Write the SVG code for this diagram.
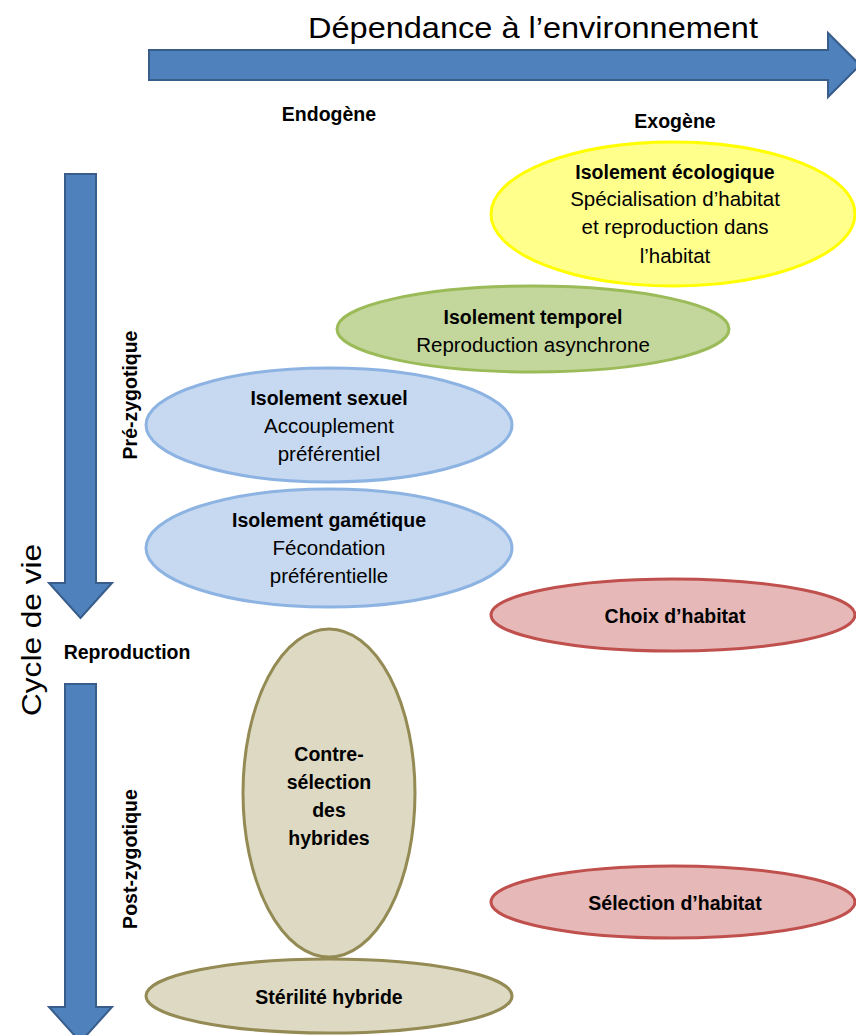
<svg xmlns="http://www.w3.org/2000/svg" width="856" height="1035" viewBox="0 0 856 1035">
<style>
.arrow{fill:#4F81BD;stroke:#385D8A;stroke-width:2}
.t{font-family:"Liberation Sans",Arial,sans-serif;fill:#000;text-anchor:middle}
.b{font-weight:bold;font-size:19.5px}
.n{font-size:20.5px}
.yel{fill:#FFFF8C;stroke:#FFFF00;stroke-width:3}
.grn{fill:#C3D69B;stroke:#9BBB59;stroke-width:3}
.blu{fill:#C6D9F1;stroke:#8DB3E2;stroke-width:3}
.red{fill:#E6B9B8;stroke:#C0504D;stroke-width:3}
.tan{fill:#DDD9C3;stroke:#948A54;stroke-width:3}
</style>
<rect width="856" height="1035" fill="#fff"/>
<g id="axes">
<path class="arrow" d="M149,50 H828 V33 L860,65 L828,97 V80 H149 Z"/>
<path class="arrow" d="M65,174 H96 V583 H112 L80.5,618 L49,583 H65 Z"/>
<path class="arrow" d="M65,684 H96 V1007 H112 L80.5,1042 L49,1007 H65 Z"/>
<text class="t" x="533" y="38" font-size="30" textLength="450" lengthAdjust="spacingAndGlyphs">Dépendance à l’environnement</text>
<text class="t b" x="329" y="121">Endogène</text>
<text class="t b" x="675" y="128">Exogène</text>
<text class="t" x="0" y="0" font-size="28" transform="translate(41,630) rotate(-90)" textLength="172" lengthAdjust="spacingAndGlyphs">Cycle de vie</text>
<text class="t b" transform="translate(137,395) rotate(-90)">Pré-zygotique</text>
<text class="t b" transform="translate(137,859) rotate(-90)">Post-zygotique</text>
<text class="t b" x="127" y="659">Reproduction</text>
</g>
<g id="ecologique">
<ellipse class="yel" cx="673" cy="214" rx="182" ry="72"/>
<text class="t b" x="675" y="179">Isolement écologique</text>
<text class="t n" x="675" y="206">Spécialisation d’habitat</text>
<text class="t n" x="675" y="234">et reproduction dans</text>
<text class="t n" x="675" y="263">l’habitat</text>
</g>
<g id="temporel">
<ellipse class="grn" cx="533" cy="329" rx="196" ry="43"/>
<text class="t b" x="533" y="324">Isolement temporel</text>
<text class="t n" x="533" y="352">Reproduction asynchrone</text>
</g>
<g id="sexuel">
<ellipse class="blu" cx="329" cy="425" rx="183" ry="57"/>
<text class="t b" x="329" y="405">Isolement sexuel</text>
<text class="t n" x="329" y="433">Accouplement</text>
<text class="t n" x="329" y="461">préférentiel</text>
</g>
<g id="gametique">
<ellipse class="blu" cx="329" cy="548" rx="183" ry="59"/>
<text class="t b" x="329" y="527">Isolement gamétique</text>
<text class="t n" x="329" y="555">Fécondation</text>
<text class="t n" x="329" y="583">préférentielle</text>
</g>
<g id="choix">
<ellipse class="red" cx="673" cy="615" rx="182" ry="36"/>
<text class="t b" x="675" y="623">Choix d’habitat</text>
</g>
<g id="contreselection">
<ellipse class="tan" cx="329" cy="793" rx="86" ry="164"/>
<text class="t b" x="329" y="761">Contre-</text>
<text class="t b" x="329" y="789">sélection</text>
<text class="t b" x="329" y="817">des</text>
<text class="t b" x="329" y="845">hybrides</text>
</g>
<g id="sterilite">
<ellipse class="tan" cx="329" cy="996" rx="183" ry="37"/>
<text class="t b" x="329" y="1004">Stérilité hybride</text>
</g>
<g id="selection">
<ellipse class="red" cx="673" cy="902" rx="182" ry="36"/>
<text class="t b" x="675" y="910">Sélection d’habitat</text>
</g>
<g id="connectors"/>
</svg>
